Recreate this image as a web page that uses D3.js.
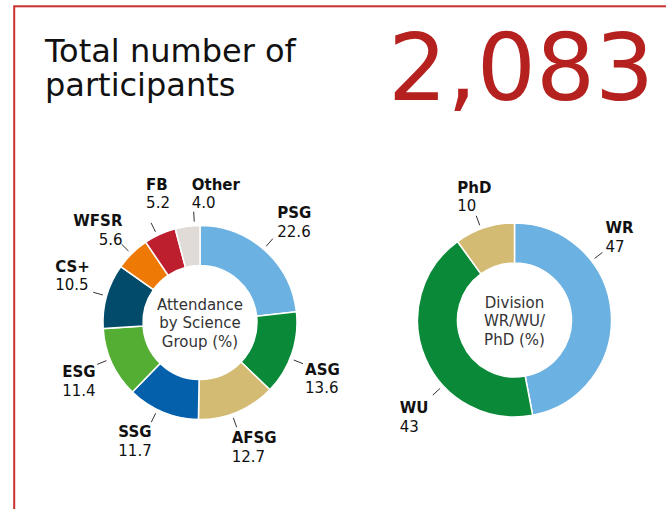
<!DOCTYPE html>
<html>
<head>
<meta charset="utf-8">
<script src="https://cdn.jsdelivr.net/npm/d3@7"></script>
<style>
  html, body { margin: 0; padding: 0; background: #fff; }
  svg text { font-family: "DejaVu Sans", Verdana, sans-serif; }
  .lbl-name { font-weight: bold; }
</style>
</head>
<body>
<svg id="chart" width="666" height="509"></svg>
<script>
// headline
const titleLines = ["Total number of", "participants"];
const totalParticipants = 2083;

// attendance by science group (%)
const groupNames = ["PSG", "ASG", "AFSG", "SSG", "ESG", "CS+", "WFSR", "FB", "Other"];
const groupValues = [22.6, 13.6, 12.7, 11.7, 11.4, 10.5, 5.6, 5.2, 4.0];
const groupColors = ["#6bb1e1", "#0a8a38", "#d3bb73", "#0560ab", "#55ae34", "#034b6a", "#ee7a05", "#bd1f2e", "#e0dbd7"];
const groupCenter = ["Attendance", "by Science", "Group (%)"];

// division WR/WU/PhD (%)
const divNames = ["WR", "WU", "PhD"];
const divValues = [47, 43, 10];
const divColors = ["#6bb1e1", "#0a8a38", "#d3bb73"];
const divCenter = ["Division", "WR/WU/", "PhD (%)"];

// label placement: where the connector sits on the slice (fraction) and text offset from its end
const labelLayout = {
    "PSG":   {at: .49, anchor: "start", dx: 4.5, dy: -20.5},
    "ASG":   {at: .56, anchor: "start", dx: 2,   dy: 11},
    "AFSG":  {at: .57, anchor: "start", dx: -5,  dy: 16},
    "SSG":   {at: .58, anchor: "start", dx: -33, dy: 15},
    "ESG":   {at: .56, anchor: "start", dx: -35, dy: 13},
    "CS+":   {at: .50, anchor: "start", dx: -38, dy: -20.5},
    "WFSR":  {at: .47, anchor: "end",   dx: 1,   dy: -18},
    "FB":    {at: .41, anchor: "start", dx: -5,  dy: -33},
    "Other": {at: .78, anchor: "start", dx: -2,  dy: -22},
    "WR":    {at: .31, anchor: "start", dx: 3,   dy: -19},
    "WU":    {at: .376, anchor: "start", dx: -33, dy: 18},
    "PhD":   {at: .44, anchor: "start", dx: -19, dy: -23}
};

const svg = d3.select("#chart");

// red frame, runs off the right and bottom edges
svg.append("rect")
    .attr("x", 14.2).attr("y", 6.3)
    .attr("width", 700).attr("height", 600)
    .attr("fill", "none")
    .attr("stroke", "#c9302f")
    .attr("stroke-width", 2);

// one text block, two lines
svg.append("text")
    .attr("font-size", 32)
    .attr("fill", "#111")
    .selectAll("tspan")
    .data(titleLines)
    .join("tspan")
    .attr("x", 45)
    .attr("y", (d, i) => 62 + i * 33.5)
    .text(d => d);

svg.append("text")
    .attr("x", 388)
    .attr("y", 100)
    .attr("font-size", 93)
    .attr("fill", "#b5211e")
    .text(d3.format(",")(totalParticipants));

function donut(cx, cy, names, values, colors, centerText, centerShift) {
    const rOuter = 97, rInner = 57;
    const data = names.map((n, i) => ({name: n, value: values[i], color: colors[i]}));
    const pie = d3.pie().sort(null).value(d => d.value);
    const arc = d3.arc().innerRadius(rInner).outerRadius(rOuter);
    const g = svg.append("g").attr("transform", `translate(${cx},${cy})`);

    const arcs = pie(data);
    g.selectAll("path.slice")
        .data(arcs)
        .join("path")
        .attr("class", "slice")
        .attr("d", arc)
        .attr("fill", d => d.data.color)
        .attr("stroke", "#fff")
        .attr("stroke-width", 1.5);

    const polar = (a, r) => [Math.sin(a) * r, -Math.cos(a) * r];

    arcs.forEach(d => {
        const lay = labelLayout[d.data.name];
        const a = d.startAngle + (d.endAngle - d.startAngle) * lay.at;
        const p1 = polar(a, rOuter + 4), p2 = polar(a, rOuter + 14);
        g.append("line")
            .attr("x1", p1[0]).attr("y1", p1[1])
            .attr("x2", p2[0]).attr("y2", p2[1])
            .attr("stroke", "#333")
            .attr("stroke-width", 1);
        const t = g.append("text")
            .attr("text-anchor", lay.anchor)
            .attr("font-size", 15)
            .attr("fill", "#111");
        t.append("tspan")
            .attr("class", "lbl-name")
            .attr("x", p2[0] + lay.dx)
            .attr("y", p2[1] + lay.dy)
            .text(d.data.name);
        t.append("tspan")
            .attr("x", p2[0] + lay.dx)
            .attr("y", p2[1] + lay.dy + 18.5)
            .text(d3.format(d.data.value % 1 === 0 && names.length < 5 ? "d" : ".1f")(d.data.value));
    });

    const c = g.append("text")
        .attr("text-anchor", "middle")
        .attr("font-size", 15)
        .attr("fill", "#333");
    c.selectAll("tspan")
        .data(centerText)
        .join("tspan")
        .attr("x", 0)
        .attr("y", (d, i) => (i - 1) * 18.5 + centerShift)
        .text(d => d);
}

donut(200, 322.5, groupNames, groupValues, groupColors, groupCenter, 5.5);
donut(514.5, 320, divNames, divValues, divColors, divCenter, 6);
</script>
</body>
</html>
